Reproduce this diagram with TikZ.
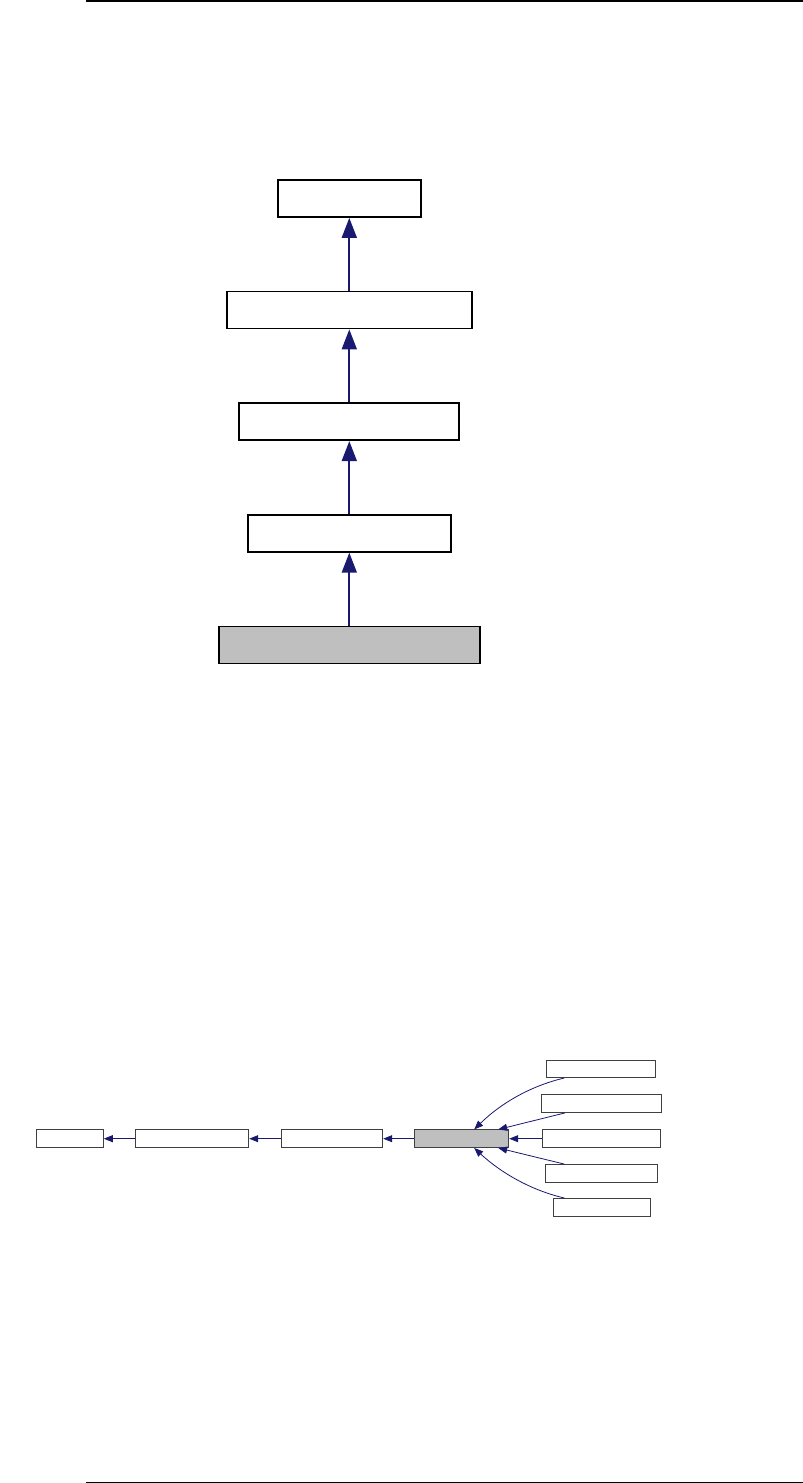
\documentclass[tikz,border=0pt]{standalone}
\usetikzlibrary{arrows.meta}
\definecolor{edgeblue}{HTML}{191970}
\definecolor{graybox}{HTML}{BFBFBF}
\begin{document}
\begin{tikzpicture}[x=1pt,y=-1pt,
  bigbox/.style={draw=black,line width=1.8pt,fill=white,inner sep=0pt,minimum height=37pt},
  smallbox/.style={draw=black!75,line width=1pt,fill=white,inner sep=0pt,minimum height=17.5pt},
  bigarrow/.style={draw=edgeblue,line width=1.8pt,-{Triangle[length=20pt,width=15pt]}},
  smallarrow/.style={draw=edgeblue,line width=0.8pt,-{Triangle[length=9pt,width=7pt]}},
  rule/.style={line width=1.4pt}]
\useasboundingbox (0,0) rectangle (803,1483);
% page rules
\coordinate (t1) at (86,0.8); \coordinate (t2) at (803,0.8);
\coordinate (b1) at (86,1482.2); \coordinate (b2) at (803,1482.2);
\draw[rule] (t1) -- (t2);
\draw[rule] (b1) -- (b2);
% top diagram
\node[bigbox,minimum width=143pt] (n1) at (349.3,198.5) {};
\node[bigbox,minimum width=245pt] (n2) at (349.3,310) {};
\node[bigbox,minimum width=220pt] (n3) at (349.3,421.7) {};
\node[bigbox,minimum width=203pt] (n4) at (349.3,533.3) {};
\node[bigbox,minimum width=261pt,fill=graybox] (n5) at (349.3,645) {};
\draw[bigarrow] (n2.north) -- (n1.south);
\draw[bigarrow] (n3.north) -- (n2.south);
\draw[bigarrow] (n4.north) -- (n3.south);
\draw[bigarrow] (n5.north) -- (n4.south);
% bottom diagram
\node[smallbox,minimum width=66.6pt] (a) at (70,1138.7) {};
\node[smallbox,minimum width=113pt] (b) at (192.2,1138.7) {};
\node[smallbox,minimum width=101.4pt] (c) at (332,1138.7) {};
\node[smallbox,minimum width=94pt,fill=graybox] (d) at (461.7,1138.7) {};
\node[smallbox,minimum width=109.3pt] (r1) at (601.3,1068.8) {};
\node[smallbox,minimum width=120.4pt] (r2) at (601.5,1103.7) {};
\node[smallbox,minimum width=117.6pt] (r3) at (601.5,1138.7) {};
\node[smallbox,minimum width=112pt] (r4) at (601.7,1173.3) {};
\node[smallbox,minimum width=97pt] (r5) at (601.5,1207.3) {};
\draw[smallarrow] (b.west) -- (a.east);
\draw[smallarrow] (c.west) -- (b.east);
\draw[smallarrow] (d.west) -- (c.east);
\draw[smallarrow] (r3.west) -- (d.east);
\draw[smallarrow] ([xshift=18pt]r1.south west) .. controls (530,1086) and (500,1104) .. ([xshift=-35pt]d.north east);
\draw[smallarrow] ([xshift=24pt]r2.south west) -- ([xshift=-11pt]d.north east);
\draw[smallarrow] ([xshift=19pt]r4.north west) -- ([xshift=-11pt]d.south east);
\draw[smallarrow] ([xshift=12pt]r5.north west) .. controls (530,1190) and (500,1172) .. ([xshift=-35pt]d.south east);
\end{tikzpicture}
\end{document}
